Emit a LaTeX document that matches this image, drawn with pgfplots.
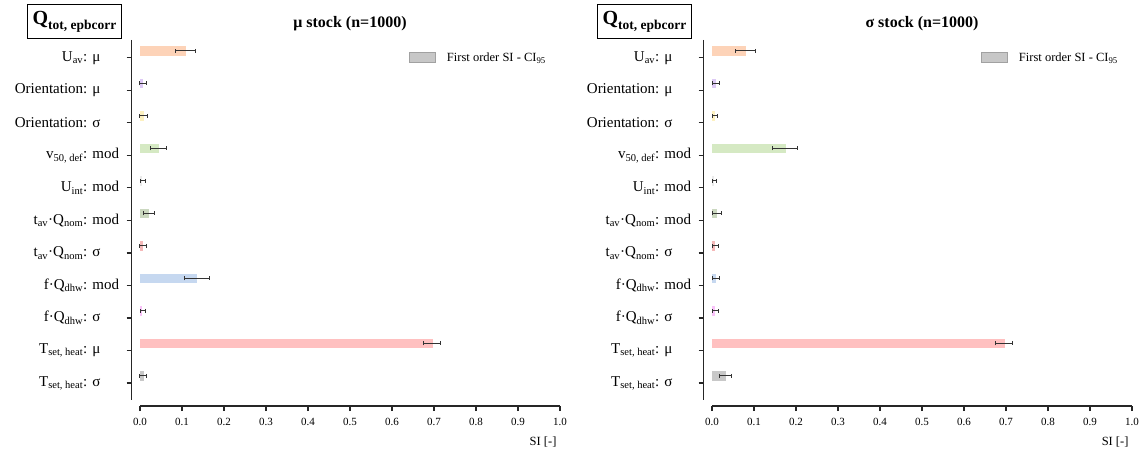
\documentclass[border=0pt]{standalone}
\usepackage{fontspec}
\setmainfont{Liberation Serif}
\usepackage{pgfplots}
\pgfplotsset{compat=1.18}
\definecolor{cUav}{HTML}{FDD3B8}
\definecolor{cOrm}{HTML}{DDC9F5}
\definecolor{cOrs}{HTML}{FDF1C0}
\definecolor{cVfd}{HTML}{D5E9C3}
\definecolor{cUin}{HTML}{EBEBEB}
\definecolor{cTQm}{HTML}{CBD8C0}
\definecolor{cTQs}{HTML}{F5B9B9}
\definecolor{cFQm}{HTML}{C6D8F0}
\definecolor{cFQs}{HTML}{F9C3F9}
\definecolor{cTsm}{HTML}{FFC0C0}
\definecolor{cTss}{HTML}{C8C8C8}
\newcommand\lab[2]{#1: \rlap{#2}\phantom{mod}}
\pgfplotsset{
  si/.style={xbar, bar width=0.3, bar shift=0, draw=none, fill=#1,
    error bars/.cd, x dir=both, x explicit, error mark=|,
    error bar style={draw=black!80, line width=1pt},
    error mark options={draw=black!80, line width=1pt, mark size=2pt}},
  sipanel/.style={
    scale only axis, width=428.4pt, height=366pt,
    xmin=-0.02, xmax=1.0, ymin=-10.71, ymax=0.55,
    clip=false, axis line style={draw=none},
    xtick={0,0.1,0.2,0.3,0.4,0.5,0.6,0.7,0.8,0.9,1.0},
    ytick={0,-1,-2,-3,-4,-5,-6,-7,-8,-9,-10},
    yticklabels={{\lab{U\textsubscript{av}}{μ}},
                 {\lab{Orientation}{μ}},
                 {\lab{Orientation}{σ}},
                 {\lab{v\textsubscript{50, def}}{mod}},
                 {\lab{U\textsubscript{int}}{mod}},
                 {\lab{t\textsubscript{av}·Q\textsubscript{nom}}{mod}},
                 {\lab{t\textsubscript{av}·Q\textsubscript{nom}}{σ}},
                 {\lab{f·Q\textsubscript{dhw}}{mod}},
                 {\lab{f·Q\textsubscript{dhw}}{σ}},
                 {\lab{T\textsubscript{set, heat}}{μ}},
                 {\lab{T\textsubscript{set, heat}}{σ}}},
    xtick pos=left, ytick pos=left,
    tick align=outside, major tick length=5pt,
    every tick/.style={black!85, line width=1.2pt},
    /pgf/number format/assume math mode=true,
    yticklabel style={font=\fontsize{15}{18}\selectfont, xshift=-4pt},
    xticklabel style={font=\fontsize{11}{13}\selectfont, yshift=-4pt,
      /pgf/number format/.cd, fixed, fixed zerofill, precision=1},
    legend style={at={(0.6475,0.951)}, anchor=west, draw=none, fill=none,
      inner sep=0pt, outer sep=0pt, font=\fontsize{12.5}{14}\selectfont,
      nodes={inner sep=0pt}, column sep=11pt},
  },
}
\newcommand\axislines{%
  \draw[black!85, line width=1.5pt] (axis cs:-0.02,0.55) -- (axis cs:-0.02,-10.52);
  \draw[black!85, line width=1.5pt] (axis cs:0,-10.71) -- (axis cs:1,-10.71);}
\newcommand\legendpatch{%
  \addlegendimage{legend image code/.code={\draw[fill=black!22, draw=black!37, line width=1pt] (0pt,-5pt) rectangle (26pt,5pt);}}
  \addlegendentry{First order SI - CI\textsubscript{95}}}
\begin{document}
\begin{tikzpicture}
\useasboundingbox (0,0) rectangle (1141pt,450pt);
% ---------------- left panel: mu stock (bars sit 0.215 above each tick)
\begin{axis}[sipanel, at={(131.6pt,44pt)}, anchor=south west]
\legendpatch
\addplot[si=cUav] coordinates {(0.110,0.215) += (0.023,0) -= (0.026,0)};
\addplot[si=cOrm] coordinates {(0.006,-0.785) += (0.009,0) -= (0.006,0)};
\addplot[si=cOrs] coordinates {(0.0095,-1.785) += (0.0075,0) -= (0.011,0)};
\addplot[si=cVfd] coordinates {(0.045,-2.785) += (0.018,0) -= (0.020,0)};
\addplot[si=cUin] coordinates {(0.004,-3.785) += (0.0095,0) -= (0.0035,0)};
\addplot[si=cTQm] coordinates {(0.021,-4.785) += (0.014,0) -= (0.013,0)};
\addplot[si=cTQs] coordinates {(0.006,-5.785) += (0.009,0) -= (0.007,0)};
\addplot[si=cFQm] coordinates {(0.136,-6.785) += (0.029,0) -= (0.030,0)};
\addplot[si=cFQs] coordinates {(0.005,-7.785) += (0.0077,0) -= (0.004,0)};
\addplot[si=cTsm] coordinates {(0.6976,-8.785) += (0.018,0) -= (0.022,0)};
\addplot[si=cTss] coordinates {(0.0095,-9.785) += (0.0055,0) -= (0.0095,0)};
\axislines
\end{axis}
% ---------------- right panel: sigma stock
\begin{axis}[sipanel, at={(703.6pt,44pt)}, anchor=south west]
\legendpatch
\addplot[si=cUav] coordinates {(0.081,0.215) += (0.022,0) -= (0.024,0)};
\addplot[si=cOrm] coordinates {(0.0095,-0.785) += (0.0095,0) -= (0.008,0)};
\addplot[si=cOrs] coordinates {(0.007,-1.785) += (0.006,0) -= (0.007,0)};
\addplot[si=cVfd] coordinates {(0.176,-2.785) += (0.028,0) -= (0.032,0)};
\addplot[si=cUin] coordinates {(0.0048,-3.785) += (0.0062,0) -= (0.004,0)};
\addplot[si=cTQm] coordinates {(0.011,-4.785) += (0.012,0) -= (0.0095,0)};
\addplot[si=cTQs] coordinates {(0.007,-5.785) += (0.0085,0) -= (0.007,0)};
\addplot[si=cFQm] coordinates {(0.0095,-6.785) += (0.0085,0) -= (0.008,0)};
\addplot[si=cFQs] coordinates {(0.007,-7.785) += (0.0085,0) -= (0.007,0)};
\addplot[si=cTsm] coordinates {(0.6976,-8.785) += (0.018,0) -= (0.023,0)};
\addplot[si=cTss] coordinates {(0.033,-9.785) += (0.013,0) -= (0.016,0)};
\axislines
\end{axis}
% ---------------- titles, boxes, axis labels
\node[anchor=base, font=\fontsize{16}{18}\selectfont\bfseries] at (350pt,422.5pt) {μ stock (n=1000)};
\node[anchor=base, font=\fontsize{16}{18}\selectfont\bfseries] at (922pt,422.5pt) {σ stock (n=1000)};
\node[anchor=base east, font=\fontsize{12.5}{14}\selectfont] at (560pt,5pt) {SI [-]};
\node[anchor=base east, font=\fontsize{12.5}{14}\selectfont] at (1132pt,5pt) {SI [-]};
\node[draw=black, line width=1.3pt, minimum width=94pt, minimum height=34pt, inner sep=0pt] at (74.5pt,428.5pt)
  {\fontsize{20}{22}\selectfont\bfseries Q\raisebox{-5pt}{\fontsize{13.5}{15}\selectfont tot, epbcorr}};
\node[draw=black, line width=1.3pt, minimum width=94pt, minimum height=34pt, inner sep=0pt] at (644.5pt,428.5pt)
  {\fontsize{20}{22}\selectfont\bfseries Q\raisebox{-5pt}{\fontsize{13.5}{15}\selectfont tot, epbcorr}};
\end{tikzpicture}
\end{document}
